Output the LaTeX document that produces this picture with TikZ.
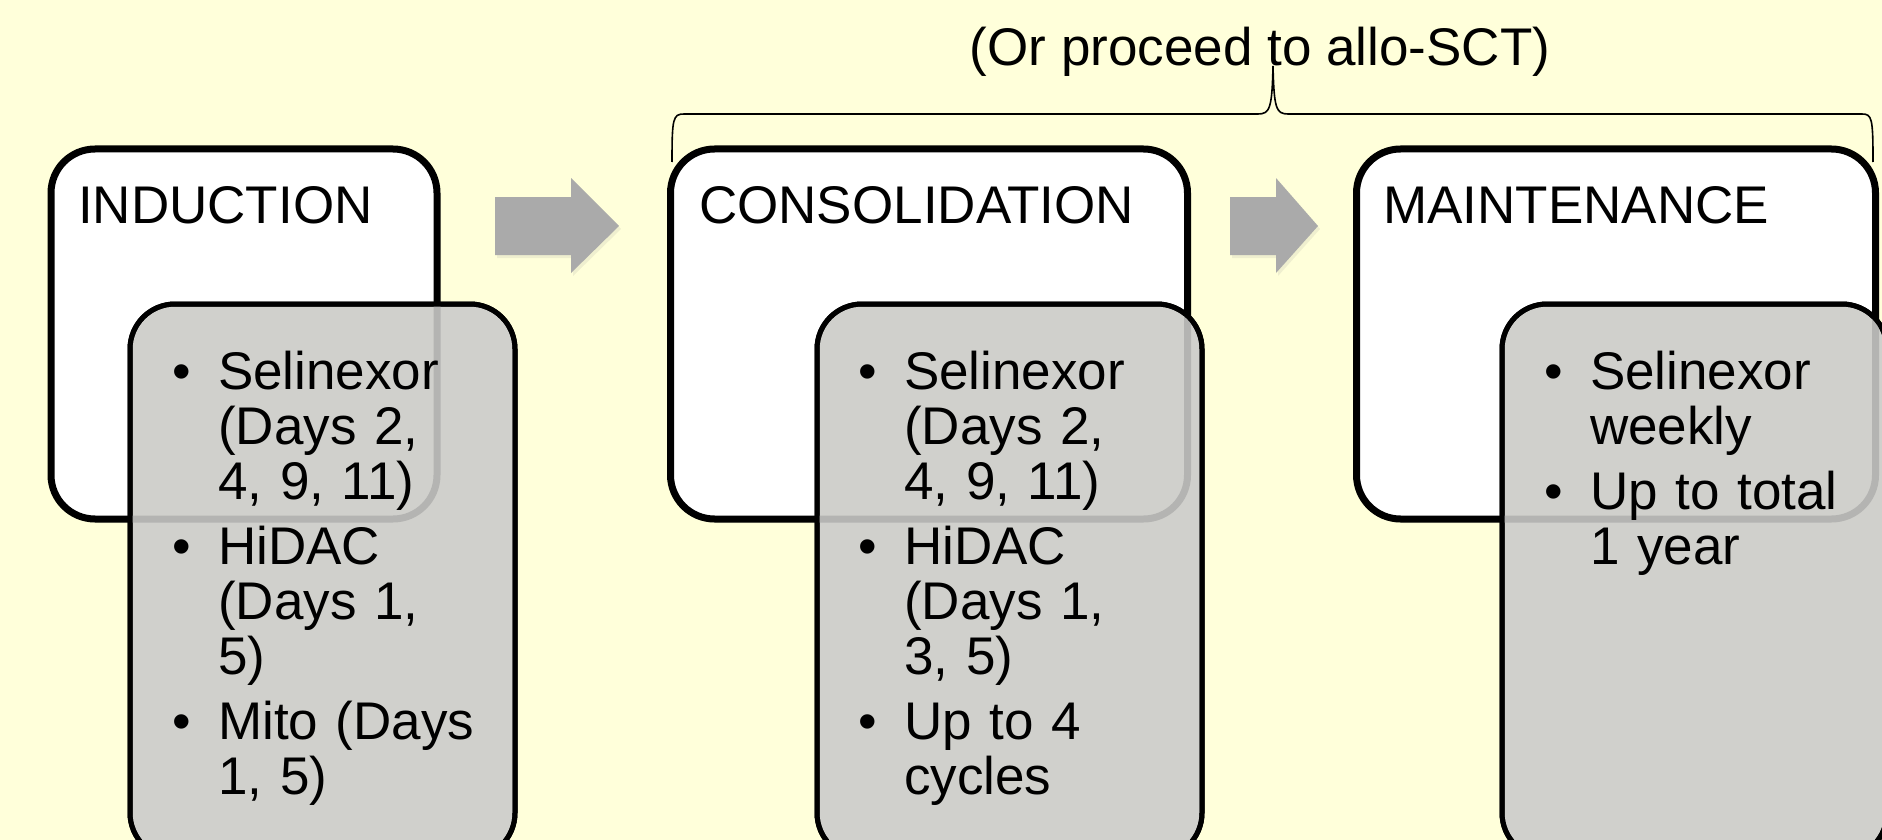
\documentclass[tikz,border=0pt]{standalone}
\usepackage{fontspec}
\setmainfont{Liberation Sans}
\usetikzlibrary{shadows}
\definecolor{bg}{RGB}{255,255,218}
\definecolor{gfill}{RGB}{208,208,204}
\definecolor{arrowgray}{RGB}{170,170,170}
\definecolor{bandgray}{RGB}{180,180,178}
\newcommand{\bitem}[1]{\hangindent=46pt\hangafter=1\noindent\makebox[46pt][l]{\textbullet}#1\par}
\begin{document}
\begin{tikzpicture}[x=1pt,y=-1pt,
  phase/.style={draw=black, line width=7pt, fill=white, rounded corners=44pt, inner sep=0pt, outer sep=0pt,
    minimum height=370pt, drop shadow={opacity=0.12, shadow xshift=3pt, shadow yshift=-4pt}},
  detail/.style={draw=black, line width=5pt, fill=gfill, rounded corners=45pt, inner sep=0pt, outer sep=0pt,
    minimum width=385pt, minimum height=554pt},
  head/.style={inner sep=0pt, font=\fontsize{53pt}{55pt}\selectfont},
  items/.style={inner sep=0pt, text width=420pt, align=left, font=\fontsize{53pt}{55pt}\selectfont},
  blockarrow/.style={fill=arrowgray, drop shadow={opacity=0.12, shadow xshift=2pt, shadow yshift=-3pt}},
  band/.style={draw=bandgray, line width=7pt, rounded corners=44pt},
  grayedge/.style={draw=black, line width=5pt, rounded corners=45pt},
  bracket/.style={draw=black, line width=1.6pt}
]
\useasboundingbox (0,0) rectangle (1882,840);
\fill[bg] (0,0) rectangle (1882,840);

% phase boxes
\node[phase, minimum width=386pt] (ind) at (244,334) {};
\node[phase, minimum width=517pt] (con) at (929,334) {};
\node[phase, minimum width=519pt] (mnt) at (1616,334) {};

% block arrows
\fill[blockarrow] (495,197) -- (571,197) -- (571,178) -- (619,226) -- (571,273) -- (571,255) -- (495,255) -- cycle;
\fill[blockarrow] (1230,197) -- (1276,197) -- (1276,178) -- (1318,226) -- (1276,273) -- (1276,255) -- (1230,255) -- cycle;

% detail boxes
\node[detail] (gind) at (322.5,581) {};
\node[detail] (gcon) at (1009.5,581) {};
\node[detail] (gmnt) at (1694.5,581) {};

% faint edges of the phase boxes seen through the detail boxes
\begin{scope}
  \clip[rounded corners=45pt] (gind.north west) rectangle (gind.south east);
  \draw[band] (ind.north west) rectangle (ind.south east);
\end{scope}
\begin{scope}
  \clip[rounded corners=45pt] (gcon.north west) rectangle (gcon.south east);
  \draw[band] (con.north west) rectangle (con.south east);
\end{scope}
\begin{scope}
  \clip[rounded corners=45pt] (gmnt.north west) rectangle (gmnt.south east);
  \draw[band] (mnt.north west) rectangle (mnt.south east);
\end{scope}
\draw[grayedge] (gind.north west) rectangle (gind.south east);
\draw[grayedge] (gcon.north west) rectangle (gcon.south east);
\draw[grayedge] (gmnt.north west) rectangle (gmnt.south east);

% headings
\node[head, anchor=base west] (indT) at (78,223) {INDUCTION};
\node[head, anchor=base west] (conT) at (699,223) {CONSOLIDATION};
\node[head, anchor=base west] (mntT) at (1383,223) {MAINTENANCE};

% bullet lists
\node[items, anchor=base west] (indL) at (172,389) {\setlength{\parskip}{10pt}%
  \bitem{Selinexor\newline (Days 2,\newline 4, 9, 11)}%
  \bitem{HiDAC\newline (Days 1,\newline 5)}%
  \bitem{Mito (Days\newline 1, 5)}};
\node[items, anchor=base west] (conL) at (858,389) {\setlength{\parskip}{10pt}%
  \bitem{Selinexor\newline (Days 2,\newline 4, 9, 11)}%
  \bitem{HiDAC\newline (Days 1,\newline 3, 5)}%
  \bitem{Up to 4\newline cycles}};
\node[items, anchor=base west] (mntL) at (1544,389) {\setlength{\parskip}{10pt}%
  \bitem{Selinexor\newline weekly}%
  \bitem{Up to total\newline 1 year}};

% title and bracket
\node[head, anchor=base] (title) at (1260,66) {(Or proceed to allo-SCT)};
\coordinate (bl) at (672,162);
\coordinate (br) at (1873,162);
\coordinate (bt) at (1273,66);
\draw[bracket] (bl) .. controls (672,118) and (673,114) .. (684,114) -- (1258,114)
  .. controls (1270,114) and (1272,108) .. (bt)
  .. controls (1274,108) and (1276,114) .. (1288,114) -- (1862,114)
  .. controls (1872,114) and (1873,118) .. (br);
\end{tikzpicture}
\end{document}
